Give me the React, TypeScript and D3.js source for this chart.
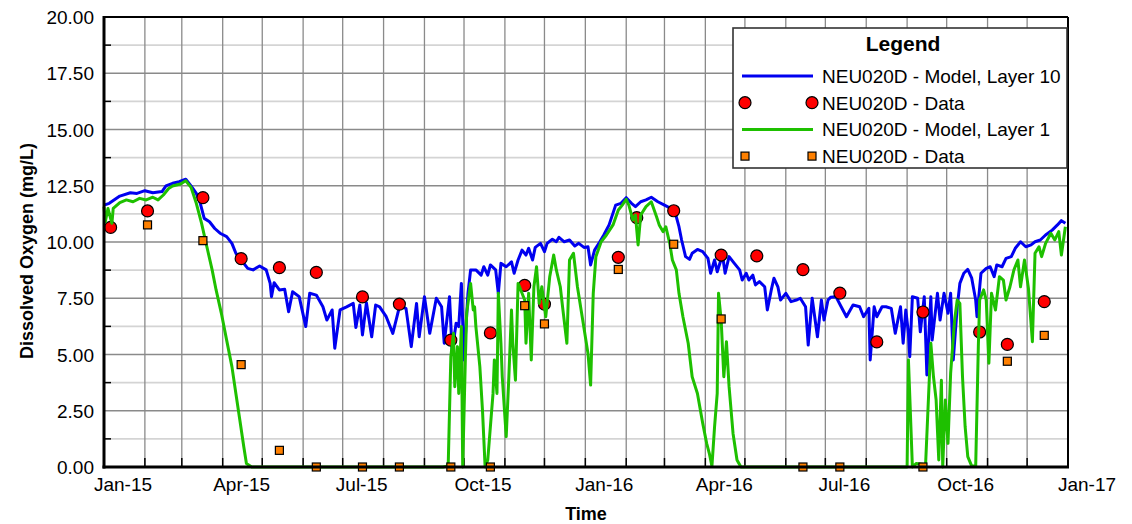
import { useRef, useEffect } from 'react'
import * as d3 from 'd3'

// model output, layer 10 (bottom)
const layer10Model: [string, number][] = [
  ['2015-01-01', 11.64], ['2015-01-05', 11.72], ['2015-01-13', 12.04], ['2015-01-21', 12.19], ['2015-01-26', 12.16],
  ['2015-02-01', 12.28], ['2015-02-07', 12.19], ['2015-02-14', 12.24], ['2015-02-17', 12.49], ['2015-02-22', 12.61],
  ['2015-02-27', 12.68], ['2015-03-04', 12.79], ['2015-03-08', 12.49], ['2015-03-12', 12.16], ['2015-03-15', 11.72],
  ['2015-03-18', 11.05], ['2015-03-22', 10.9], ['2015-03-26', 10.6], ['2015-03-30', 10.39], ['2015-04-04', 10.24],
  ['2015-04-08', 9.94], ['2015-04-11', 9.5], ['2015-04-15', 9.2], ['2015-04-20', 8.83], ['2015-04-24', 8.76],
  ['2015-04-29', 8.93], ['2015-05-04', 8.76], ['2015-05-07', 8.16], ['2015-05-08', 7.57], ['2015-05-10', 8.19],
  ['2015-05-14', 7.87], ['2015-05-18', 7.9], ['2015-05-21', 6.9], ['2015-05-24', 7.79], ['2015-05-29', 7.57],
  ['2015-06-03', 6.24], ['2015-06-06', 7.72], ['2015-06-11', 7.64], ['2015-06-16', 7.12], ['2015-06-19', 6.53],
  ['2015-06-23', 6.98], ['2015-06-25', 5.28], ['2015-06-29', 6.98], ['2015-07-04', 7.12], ['2015-07-09', 7.27],
  ['2015-07-11', 6.2], ['2015-07-14', 7.2], ['2015-07-16', 5.87], ['2015-07-19', 7.3], ['2015-07-23', 5.79],
  ['2015-07-26', 7.2], ['2015-07-29', 7.12], ['2015-08-03', 6.68], ['2015-08-08', 5.94], ['2015-08-13', 7.12],
  ['2015-08-18', 7.05], ['2015-08-22', 5.35], ['2015-08-26', 7.27], ['2015-08-28', 5.79], ['2015-09-01', 7.57],
  ['2015-09-05', 5.94], ['2015-09-10', 7.5], ['2015-09-14', 7.12], ['2015-09-16', 5.5], ['2015-09-20', 7.57],
  ['2015-09-22', 5.13], ['2015-09-25', 6.39], ['2015-09-27', 6.24], ['2015-09-29', 8.16], ['2015-10-01', 4.76],
  ['2015-10-04', 7.72], ['2015-10-06', 8.76], ['2015-10-10', 8.76], ['2015-10-14', 8.53], ['2015-10-16', 8.9],
  ['2015-10-19', 8.53], ['2015-10-21', 8.98], ['2015-10-25', 8.76], ['2015-10-27', 7.72], ['2015-10-29', 9.05],
  ['2015-11-02', 8.9], ['2015-11-06', 9.12], ['2015-11-08', 8.61], ['2015-11-11', 9.2], ['2015-11-14', 9.64],
  ['2015-11-17', 9.42], ['2015-11-19', 9.72], ['2015-11-22', 9.2], ['2015-11-24', 9.76], ['2015-11-28', 9.94],
  ['2015-12-01', 9.57], ['2015-12-03', 9.94], ['2015-12-07', 10.12], ['2015-12-10', 10.01], ['2015-12-12', 10.21],
  ['2015-12-16', 10.01], ['2015-12-20', 10.09], ['2015-12-24', 9.82], ['2015-12-27', 9.94], ['2015-12-31', 9.76],
  ['2016-01-03', 9.79], ['2016-01-05', 8.98], ['2016-01-08', 9.64], ['2016-01-12', 10.01], ['2016-01-15', 10.31],
  ['2016-01-19', 10.76], ['2016-01-24', 11.64], ['2016-01-28', 11.72], ['2016-02-01', 11.97], ['2016-02-05', 11.72],
  ['2016-02-08', 11.57], ['2016-02-12', 11.79], ['2016-02-16', 11.87], ['2016-02-20', 11.99], ['2016-02-25', 11.79],
  ['2016-03-01', 11.64], ['2016-03-06', 11.49], ['2016-03-10', 11.12], ['2016-03-12', 10.68], ['2016-03-14', 10.09],
  ['2016-03-17', 9.35], ['2016-03-20', 9.23], ['2016-03-22', 9.5], ['2016-03-26', 9.67], ['2016-03-30', 9.57],
  ['2016-04-03', 9.27], ['2016-04-05', 8.61], ['2016-04-08', 9.2], ['2016-04-10', 8.68], ['2016-04-14', 9.42],
  ['2016-04-16', 8.61], ['2016-04-19', 9.35], ['2016-04-23', 9.05], ['2016-04-27', 8.76], ['2016-04-29', 8.31],
  ['2016-05-02', 8.61], ['2016-05-04', 8.31], ['2016-05-07', 8.53], ['2016-05-09', 8.09], ['2016-05-12', 8.24],
  ['2016-05-16', 8.01], ['2016-05-18', 6.98], ['2016-05-21', 7.87], ['2016-05-23', 8.39], ['2016-05-26', 8.01],
  ['2016-05-28', 7.42], ['2016-06-01', 7.72], ['2016-06-05', 7.35], ['2016-06-09', 7.42], ['2016-06-12', 7.5],
  ['2016-06-16', 7.12], ['2016-06-18', 5.42], ['2016-06-21', 7.5], ['2016-06-25', 5.79], ['2016-06-28', 7.42],
  ['2016-06-30', 6.53], ['2016-07-03', 7.42], ['2016-07-05', 7.54], ['2016-07-09', 7.57], ['2016-07-13', 7.12],
  ['2016-07-17', 6.68], ['2016-07-22', 7.2], ['2016-07-27', 7.12], ['2016-07-30', 6.68], ['2016-08-03', 7.05],
  ['2016-08-04', 4.76], ['2016-08-07', 7.12], ['2016-08-09', 6.68], ['2016-08-13', 7.12], ['2016-08-16', 7.12],
  ['2016-08-20', 7.05], ['2016-08-23', 5.94], ['2016-08-27', 7.12], ['2016-08-29', 5.5], ['2016-08-31', 6.98],
  ['2016-09-02', 5.94], ['2016-09-03', 4.9], ['2016-09-05', 7.57], ['2016-09-09', 7.5], ['2016-09-11', 6.01],
  ['2016-09-14', 7.57], ['2016-09-16', 4.09], ['2016-09-19', 7.57], ['2016-09-20', 5.64], ['2016-09-24', 7.72],
  ['2016-09-26', 6.53], ['2016-09-29', 7.72], ['2016-10-02', 6.83], ['2016-10-04', 7.72], ['2016-10-06', 4.76],
  ['2016-10-09', 7.12], ['2016-10-11', 8.16], ['2016-10-14', 8.61], ['2016-10-17', 8.78], ['2016-10-20', 8.39],
  ['2016-10-23', 7.42], ['2016-10-24', 6.68], ['2016-10-27', 8.61], ['2016-10-31', 8.83], ['2016-11-03', 8.9],
  ['2016-11-06', 8.46], ['2016-11-08', 8.98], ['2016-11-12', 8.9], ['2016-11-15', 9.27], ['2016-11-19', 9.35],
  ['2016-11-22', 9.72], ['2016-11-26', 10.01], ['2016-11-30', 9.79], ['2016-12-04', 9.87], ['2016-12-07', 10.01],
  ['2016-12-11', 10.09], ['2016-12-15', 10.31], ['2016-12-20', 10.53], ['2016-12-24', 10.76], ['2016-12-27', 10.95],
  ['2016-12-30', 10.83],
]

// model output, layer 1 (surface)
const layer1Model: [string, number][] = [
  ['2015-01-01', 11.57], ['2015-01-02', 10.9], ['2015-01-04', 11.49], ['2015-01-07', 10.83], ['2015-01-08', 11.49],
  ['2015-01-13', 11.75], ['2015-01-18', 11.87], ['2015-01-23', 11.79], ['2015-01-28', 11.94], ['2015-02-02', 11.87],
  ['2015-02-07', 11.99], ['2015-02-11', 11.87], ['2015-02-15', 12.09], ['2015-02-19', 12.38], ['2015-02-22', 12.49],
  ['2015-02-28', 12.58], ['2015-03-04', 12.72], ['2015-03-08', 12.43], ['2015-03-12', 11.72], ['2015-03-16', 10.83],
  ['2015-03-20', 9.79], ['2015-03-24', 8.76], ['2015-03-27', 7.87], ['2015-03-31', 6.83], ['2015-04-04', 5.64],
  ['2015-04-08', 4.46], ['2015-04-11', 3.27], ['2015-04-14', 2.09], ['2015-04-17', 0.9], ['2015-04-19', 0.16],
  ['2015-04-23', 0], ['2015-09-15', 0], ['2015-09-19', 0.05], ['2015-09-21', 4.9], ['2015-09-23', 5.94],
  ['2015-09-24', 3.57], ['2015-09-26', 5.35], ['2015-09-27', 3.27], ['2015-09-29', 6.24], ['2015-09-30', 0],
  ['2015-10-02', 4.76], ['2015-10-03', 6.83], ['2015-10-05', 7.72], ['2015-10-06', 8.16], ['2015-10-08', 6.98],
  ['2015-10-09', 7.12], ['2015-10-10', 6.24], ['2015-10-13', 4.46], ['2015-10-15', 2.53], ['2015-10-17', 0],
  ['2015-10-19', 0.31], ['2015-10-21', 1.79], ['2015-10-23', 3.27], ['2015-10-24', 4.76], ['2015-10-26', 3.27],
  ['2015-10-27', 7.72], ['2015-10-29', 5.5], ['2015-10-30', 4.01], ['2015-11-02', 1.35], ['2015-11-04', 4.01],
  ['2015-11-06', 6.98], ['2015-11-07', 5.5], ['2015-11-09', 3.86], ['2015-11-11', 8.16], ['2015-11-14', 7.72],
  ['2015-11-16', 7.42], ['2015-11-17', 5.5], ['2015-11-19', 7.72], ['2015-11-21', 4.76], ['2015-11-23', 8.01],
  ['2015-11-25', 8.9], ['2015-11-27', 7.27], ['2015-11-29', 8.01], ['2015-12-02', 6.68], ['2015-12-05', 8.46],
  ['2015-12-08', 9.42], ['2015-12-10', 8.76], ['2015-12-13', 8.01], ['2015-12-15', 6.98], ['2015-12-18', 5.5],
  ['2015-12-20', 9.2], ['2015-12-23', 9.5], ['2015-12-26', 8.01], ['2015-12-30', 6.53], ['2016-01-03', 5.05],
  ['2016-01-05', 3.64], ['2016-01-07', 7.72], ['2016-01-09', 9.35], ['2016-01-13', 10.01], ['2016-01-17', 10.31],
  ['2016-01-22', 10.76], ['2016-01-26', 11.42], ['2016-01-29', 11.64], ['2016-02-01', 11.9], ['2016-02-03', 11.64],
  ['2016-02-06', 10.98], ['2016-02-08', 11.2], ['2016-02-10', 9.87], ['2016-02-12', 11.2], ['2016-02-16', 11.57],
  ['2016-02-20', 11.79], ['2016-02-24', 11.12], ['2016-02-26', 10.76], ['2016-02-29', 10.46], ['2016-03-02', 10.68],
  ['2016-03-05', 9.94], ['2016-03-07', 9.2], ['2016-03-10', 8.76], ['2016-03-12', 7.72], ['2016-03-15', 6.68],
  ['2016-03-19', 5.5], ['2016-03-22', 4.01], ['2016-03-26', 3.27], ['2016-03-30', 1.94], ['2016-04-02', 1.05],
  ['2016-04-04', 0.61], ['2016-04-06', 0.04], ['2016-04-08', 1.79], ['2016-04-10', 3.27], ['2016-04-11', 7.72],
  ['2016-04-13', 6.53], ['2016-04-15', 4.01], ['2016-04-17', 5.57], ['2016-04-19', 3.57], ['2016-04-22', 1.49],
  ['2016-04-25', 0.31], ['2016-04-28', 0], ['2016-09-01', 0], ['2016-09-02', 4.76], ['2016-09-05', 0],
  ['2016-09-08', 0.16], ['2016-09-15', 0.1], ['2016-09-19', 5.5], ['2016-09-21', 4.01], ['2016-09-23', 2.98],
  ['2016-09-25', 0.31], ['2016-09-27', 3.86], ['2016-09-28', 0], ['2016-09-30', 2.98], ['2016-10-02', 1.05],
  ['2016-10-04', 4.16], ['2016-10-07', 6.53], ['2016-10-09', 7.42], ['2016-10-11', 7.27], ['2016-10-13', 4.01],
  ['2016-10-15', 1.79], ['2016-10-17', 0.46], ['2016-10-20', 0.04], ['2016-10-23', 0.04], ['2016-10-25', 5.35],
  ['2016-10-26', 7.42], ['2016-10-29', 7.87], ['2016-10-31', 7.42], ['2016-11-02', 4.61], ['2016-11-04', 7.72],
  ['2016-11-07', 6.98], ['2016-11-10', 8.46], ['2016-11-13', 8.31], ['2016-11-15', 7.42], ['2016-11-18', 8.01],
  ['2016-11-21', 8.76], ['2016-11-24', 9.2], ['2016-11-26', 8.01], ['2016-11-29', 9.2], ['2016-12-02', 7.94],
  ['2016-12-05', 5.57], ['2016-12-07', 9.5], ['2016-12-10', 9.79], ['2016-12-12', 9.35], ['2016-12-15', 9.94],
  ['2016-12-19', 10.39], ['2016-12-22', 10.09], ['2016-12-25', 10.46], ['2016-12-27', 9.42], ['2016-12-30', 10.68],
]

// field samples
const layer10Dates = ['2015-01-06', '2015-02-03', '2015-03-17', '2015-04-15', '2015-05-14', '2015-06-11', '2015-07-16',
  '2015-08-13', '2015-09-21', '2015-10-21', '2015-11-16', '2015-12-01', '2016-01-26', '2016-02-09', '2016-03-08',
  '2016-04-13', '2016-05-10', '2016-06-14', '2016-07-12', '2016-08-09', '2016-09-13', '2016-10-26', '2016-11-16',
  '2016-12-14']
const layer10Obs = [10.65, 11.38, 11.97, 9.26, 8.86, 8.65, 7.56, 7.24, 5.64, 5.96, 8.07, 7.24, 9.32, 11.08, 11.39,
  9.42, 9.38, 8.77, 7.73, 5.56, 6.89, 6.0, 5.45, 7.35]

const layer1Dates = ['2015-02-03', '2015-03-17', '2015-04-15', '2015-05-14', '2015-06-11', '2015-07-16', '2015-08-13',
  '2015-09-21', '2015-10-21', '2015-11-16', '2015-12-01', '2016-01-26', '2016-03-08', '2016-04-13', '2016-06-14',
  '2016-07-12', '2016-09-13', '2016-11-16', '2016-12-14']
const layer1Obs = [10.76, 10.06, 4.55, 0.74, 0, 0, 0, 0, 0, 7.17, 6.36, 8.78, 9.9, 6.58, 0, 0, 0, 4.7, 5.85]

const yTicks = [0, 2.5, 5, 7.5, 10, 12.5, 15, 17.5, 20]
const legendLabels = [
  'NEU020D - Model, Layer 10',
  'NEU020D - Data',
  'NEU020D - Model, Layer 1',
  'NEU020D - Data',
]

const BLUE = '#0000f0'
const GREEN = '#1ec000'
const RED = '#ff0000'
const ORANGE = '#ff8000'
const FONT = '"Liberation Sans", Arial, sans-serif'

const App = () => {
  const ref = useRef<SVGSVGElement>(null)

  useEffect(() => {
    if (!ref.current) return
    const svg = d3.select(ref.current)
    svg.selectAll('*').remove()
    const width = 1132
    const height = 524
    const m = { left: 104, right: 1068, top: 17, bottom: 467 }
    const parse = d3.timeParse('%Y-%m-%d')

    const x = d3.scaleTime()
      .domain([new Date(2015, 0, 1), new Date(2017, 0, 1)])
      .range([m.left, m.right])
    const y = d3.scaleLinear().domain([0, 20]).range([m.bottom, m.top])

    svg.attr('viewBox', `0 0 ${width} ${height}`)
    svg.append('rect').attr('width', width).attr('height', height).attr('fill', '#fff')

    // grid
    const grid = svg.append('g')
    const minor = d3.range(1.25, 20, 2.5)
    grid.selectAll('line.minor').data(minor).enter().append('line')
      .attr('x1', m.left).attr('x2', m.right)
      .attr('y1', d => y(d)).attr('y2', d => y(d))
      .attr('stroke', '#d4d4d4').attr('stroke-width', 1.6)
    grid.selectAll('line.major').data(yTicks.slice(1, -1)).enter().append('line')
      .attr('x1', m.left).attr('x2', m.right)
      .attr('y1', d => y(d)).attr('y2', d => y(d))
      .attr('stroke', '#8a8a8a').attr('stroke-width', 1.3)
    const months = d3.timeMonth.range(new Date(2015, 1, 1), new Date(2017, 0, 1))
    grid.selectAll('line.v').data(months).enter().append('line')
      .attr('x1', d => x(d)).attr('x2', d => x(d))
      .attr('y1', m.top).attr('y2', m.bottom)
      .attr('stroke', '#8a8a8a').attr('stroke-width', 1.3)

    // ticks
    const ticks = svg.append('g').attr('stroke', '#000').attr('stroke-width', 1.5)
    ticks.selectAll('line.yt').data(minor).enter().append('line')
      .attr('x1', m.left).attr('x2', m.left + 7)
      .attr('y1', d => y(d)).attr('y2', d => y(d))
    ticks.selectAll('line.xt').data(months).enter().append('line')
      .attr('x1', d => x(d)).attr('x2', d => x(d))
      .attr('y1', m.bottom).attr('y2', m.bottom - 9)

    // series
    const line = d3.line<[string, number]>()
      .x(d => x(parse(d[0]) as Date))
      .y(d => y(d[1]))
    svg.append('path').datum(layer10Model)
      .attr('d', line).attr('fill', 'none')
      .attr('stroke', BLUE).attr('stroke-width', 3).attr('stroke-linejoin', 'round')
    svg.append('g').selectAll('circle').data(layer10Dates).enter().append('circle')
      .attr('cx', d => x(parse(d) as Date))
      .attr('cy', (_, i) => y(layer10Obs[i]))
      .attr('r', 6).attr('fill', RED).attr('stroke', '#000').attr('stroke-width', 1.2)
    svg.append('path').datum(layer1Model)
      .attr('d', line).attr('fill', 'none')
      .attr('stroke', GREEN).attr('stroke-width', 3).attr('stroke-linejoin', 'round')
    svg.append('g').selectAll('rect').data(layer1Dates).enter().append('rect')
      .attr('x', d => x(parse(d) as Date) - 4)
      .attr('y', (_, i) => y(layer1Obs[i]) - 4)
      .attr('width', 8).attr('height', 8)
      .attr('fill', ORANGE).attr('stroke', '#000').attr('stroke-width', 1.2)

    // frame
    svg.append('line').attr('x1', m.left).attr('x2', m.right).attr('y1', m.top).attr('y2', m.top)
      .attr('stroke', '#000').attr('stroke-width', 2)
    svg.append('line').attr('x1', m.right).attr('x2', m.right).attr('y1', m.top).attr('y2', m.bottom)
      .attr('stroke', '#000').attr('stroke-width', 2)
    svg.append('line').attr('x1', m.left).attr('x2', m.left).attr('y1', m.top - 1).attr('y2', m.bottom + 1.5)
      .attr('stroke', '#000').attr('stroke-width', 3)
    svg.append('line').attr('x1', m.left - 1.5).attr('x2', m.right + 1).attr('y1', m.bottom).attr('y2', m.bottom)
      .attr('stroke', '#000').attr('stroke-width', 3)

    // axis labels
    svg.append('g').selectAll('text').data(yTicks).enter().append('text')
      .attr('x', 94).attr('y', d => y(d) + 7)
      .attr('text-anchor', 'end')
      .attr('font-family', FONT).attr('font-size', 19)
      .text(d => d3.format('.2f')(d))
    const quarters = d3.timeMonth.every(3)!.range(new Date(2015, 0, 1), new Date(2017, 0, 2))
    const fmt = d3.timeFormat('%b-%y')
    svg.append('g').selectAll('text').data(quarters).enter().append('text')
      .attr('x', d => x(d) + 19).attr('y', 491)
      .attr('text-anchor', 'middle')
      .attr('font-family', FONT).attr('font-size', 19)
      .text(d => fmt(d))
    svg.append('text')
      .attr('transform', `translate(33,251) rotate(-90)`)
      .attr('text-anchor', 'middle')
      .attr('font-family', FONT).attr('font-size', 18).attr('font-weight', 'bold')
      .text('Dissolved Oxygen (mg/L)')
    svg.append('text')
      .attr('x', (m.left + m.right) / 2).attr('y', 520)
      .attr('text-anchor', 'middle')
      .attr('font-family', FONT).attr('font-size', 18).attr('font-weight', 'bold')
      .text('Time')

    // legend
    const lg = svg.append('g').attr('transform', 'translate(733,28)')
    lg.append('rect').attr('width', 334).attr('height', 140)
      .attr('fill', '#fff').attr('stroke', '#333').attr('stroke-width', 1.6)
    lg.append('text').attr('x', 170).attr('y', 23)
      .attr('text-anchor', 'middle')
      .attr('font-family', FONT).attr('font-size', 21).attr('font-weight', 'bold')
      .text('Legend')
    legendLabels.forEach((label, i) => {
      const cy = 48 + i * 26.7
      const row = lg.append('g')
      if (i === 0 || i === 2) {
        row.append('line').attr('x1', 9).attr('x2', 80).attr('y1', cy).attr('y2', cy)
          .attr('stroke', i === 0 ? BLUE : GREEN).attr('stroke-width', 3)
      } else if (i === 1) {
        [12, 79].forEach(cx => row.append('circle').attr('cx', cx).attr('cy', cy).attr('r', 6)
          .attr('fill', RED).attr('stroke', '#000').attr('stroke-width', 1.2))
      } else {
        [12, 79].forEach(cx => row.append('rect').attr('x', cx - 4).attr('y', cy - 4)
          .attr('width', 8).attr('height', 8)
          .attr('fill', ORANGE).attr('stroke', '#000').attr('stroke-width', 1.2))
      }
      row.append('text').attr('x', 89).attr('y', cy + 7)
        .attr('font-family', FONT).attr('font-size', 19)
        .text(label)
    })
  }, [])

  return (
    <svg ref={ref} width={1132} height={524}
      style={{ position: 'absolute', left: 0, top: 0, display: 'block' }} />
  )
}

export default App
